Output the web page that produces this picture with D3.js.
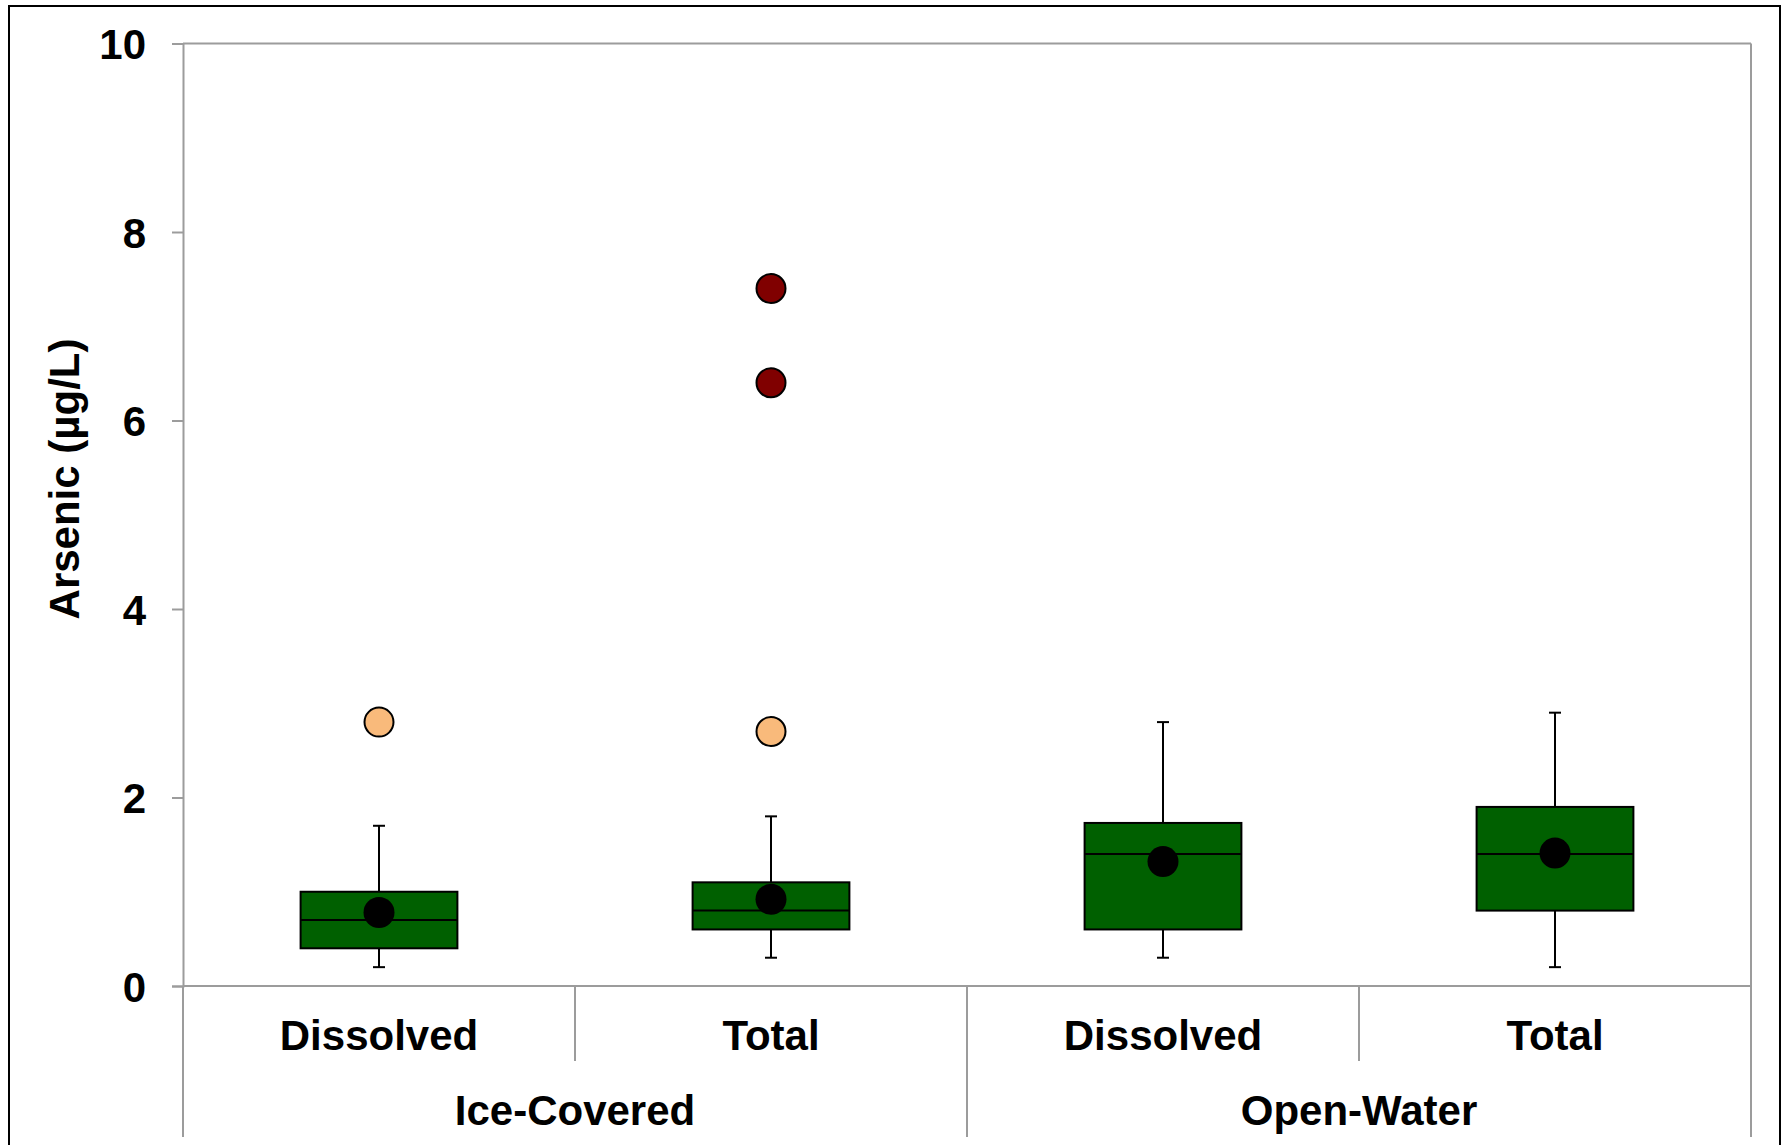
<!DOCTYPE html>
<html>
<head>
<meta charset="utf-8">
<script src="https://cdn.jsdelivr.net/npm/d3@7"></script>
<style>
  html, body { margin: 0; padding: 0; background: #fff; }
  svg { display: block; }
  text { font-family: "Liberation Sans", Arial, sans-serif; font-weight: bold; fill: #000; }
</style>
</head>
<body>
<svg id="chart" width="1785" height="1145"></svg>
<script>
// ---- data ----
const categories = ["Dissolved", "Total", "Dissolved", "Total"];
const categoryGroup = ["Ice-Covered", "Ice-Covered", "Open-Water", "Open-Water"];
const groupNames = ["Ice-Covered", "Open-Water"];
const whiskerLow = [0.2, 0.3, 0.3, 0.2];
const q1 = [0.4, 0.6, 0.6, 0.8];
const median = [0.7, 0.8, 1.4, 1.4];
const q3 = [1.0, 1.1, 1.73, 1.9];
const whiskerHigh = [1.7, 1.8, 2.8, 2.9];
const means = [0.78, 0.92, 1.32, 1.41];
const outlierCategory = [0, 1, 1, 1];
const outlierValues = [2.8, 7.4, 6.4, 2.7];
const outlierKind = ["mild", "extreme", "extreme", "mild"];
const yTicks = [0, 2, 4, 6, 8, 10];
const yTitle = "Arsenic (µg/L)";

// ---- layout ----
const W = 1785, H = 1145;
const plot = { left: 183, right: 1751, top: 43.5, bottom: 986 };
const gray = "#9c9c9c";
const svg = d3.select("#chart");

svg.append("rect").attr("x", 0).attr("y", 0).attr("width", W).attr("height", H).attr("fill", "#fff");
// outer chart border
svg.append("rect").attr("x", 9).attr("y", 6).attr("width", 1771).attr("height", 1200)
  .attr("fill", "none").attr("stroke", "#000").attr("stroke-width", 2);

const y = d3.scaleLinear().domain([0, 10]).range([plot.bottom, plot.top]);
const idx = d3.range(categories.length);
const x = d3.scaleBand().domain(idx).range([plot.left, plot.right]).paddingInner(0).paddingOuter(0);
const boxW = x.bandwidth() * 0.40;
const capW = 12;

// plot area border (top & right)
svg.append("line").attr("x1", plot.left).attr("x2", plot.right).attr("y1", plot.top).attr("y2", plot.top)
  .attr("stroke", gray).attr("stroke-width", 2);
svg.append("line").attr("x1", plot.right).attr("x2", plot.right).attr("y1", plot.top).attr("y2", plot.bottom)
  .attr("stroke", gray).attr("stroke-width", 2);

// y axis
const yAxis = d3.axisLeft(y).tickValues(yTicks).tickSize(11).tickPadding(26).tickFormat(d3.format("d"));
const gy = svg.append("g").attr("transform", `translate(${plot.left},0)`).call(yAxis);
gy.select(".domain").attr("stroke", gray).attr("stroke-width", 2);
gy.selectAll(".tick line").attr("stroke", gray).attr("stroke-width", 2);
gy.selectAll(".tick text").attr("font-size", 42).attr("font-family", "Liberation Sans, Arial, sans-serif")
  .attr("font-weight", "bold").attr("fill", "#000").attr("dy", "0.36em");

// y title
svg.append("text")
  .attr("transform", `translate(79,479) rotate(-90)`)
  .attr("text-anchor", "middle")
  .attr("font-size", 42)
  .text(yTitle);

// x axis line
svg.append("line").attr("x1", plot.left).attr("x2", plot.right).attr("y1", plot.bottom).attr("y2", plot.bottom)
  .attr("stroke", gray).attr("stroke-width", 2);

// category dividers
const edges = d3.range(categories.length + 1);
edges.forEach(i => {
  const xe = i < categories.length ? x(i) : plot.right;
  const isGroupEdge = (i === 0 || i === categories.length || categoryGroup[i] !== categoryGroup[i - 1]);
  svg.append("line")
    .attr("x1", xe).attr("x2", xe)
    .attr("y1", plot.bottom).attr("y2", isGroupEdge ? 1137 : 1061)
    .attr("stroke", gray).attr("stroke-width", 2);
});

// category labels
svg.append("g").selectAll("text").data(idx).join("text")
  .attr("x", d => x(d) + x.bandwidth() / 2)
  .attr("y", 1050)
  .attr("text-anchor", "middle")
  .attr("font-size", 42)
  .text(d => categories[d]);

// group labels
svg.append("g").selectAll("text").data(groupNames).join("text")
  .attr("x", g => {
    const members = idx.filter(i => categoryGroup[i] === g);
    return (x(members[0]) + x(members[members.length - 1]) + x.bandwidth()) / 2;
  })
  .attr("y", 1125)
  .attr("text-anchor", "middle")
  .attr("font-size", 42)
  .text(g => g);

// box plots
const gb = svg.append("g");
idx.forEach(i => {
  const cx = x(i) + x.bandwidth() / 2;
  // whiskers
  gb.append("line").attr("x1", cx).attr("x2", cx).attr("y1", y(whiskerHigh[i])).attr("y2", y(q3[i]))
    .attr("stroke", "#000").attr("stroke-width", 2);
  gb.append("line").attr("x1", cx).attr("x2", cx).attr("y1", y(q1[i])).attr("y2", y(whiskerLow[i]))
    .attr("stroke", "#000").attr("stroke-width", 2);
  gb.append("line").attr("x1", cx - capW / 2).attr("x2", cx + capW / 2).attr("y1", y(whiskerHigh[i])).attr("y2", y(whiskerHigh[i]))
    .attr("stroke", "#000").attr("stroke-width", 2);
  gb.append("line").attr("x1", cx - capW / 2).attr("x2", cx + capW / 2).attr("y1", y(whiskerLow[i])).attr("y2", y(whiskerLow[i]))
    .attr("stroke", "#000").attr("stroke-width", 2);
  // box
  gb.append("rect").attr("x", cx - boxW / 2).attr("width", boxW)
    .attr("y", y(q3[i])).attr("height", y(q1[i]) - y(q3[i]))
    .attr("fill", "#006000").attr("stroke", "#000").attr("stroke-width", 2);
  // median
  gb.append("line").attr("x1", cx - boxW / 2).attr("x2", cx + boxW / 2).attr("y1", y(median[i])).attr("y2", y(median[i]))
    .attr("stroke", "#000").attr("stroke-width", 2);
  // mean
  gb.append("circle").attr("cx", cx).attr("cy", y(means[i])).attr("r", 15.5).attr("fill", "#000");
});

// outliers
svg.append("g").selectAll("circle").data(outlierValues.map((v, k) => ({ v, c: outlierCategory[k], kind: outlierKind[k] })))
  .join("circle")
  .attr("cx", d => x(d.c) + x.bandwidth() / 2)
  .attr("cy", d => y(d.v))
  .attr("r", 14.5)
  .attr("fill", d => d.kind === "extreme" ? "#800000" : "#F9BA7B")
  .attr("stroke", "#000").attr("stroke-width", 2);
</script>
</body>
</html>
